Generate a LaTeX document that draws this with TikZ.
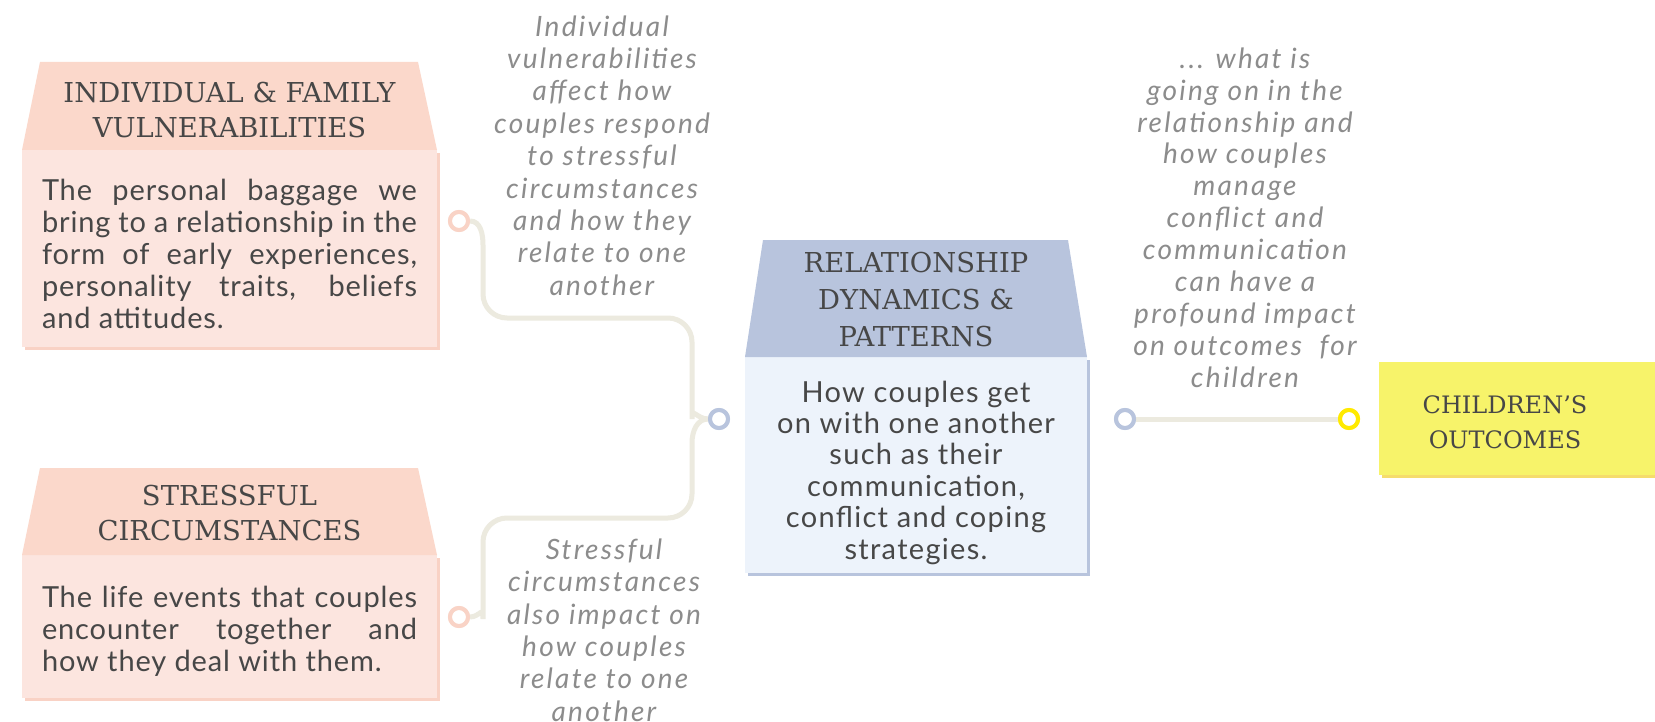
\documentclass[tikz,border=0pt]{standalone}
\usepackage{fontspec}
\newfontfamily\bodyfont[LetterSpace=3]{Lato}
\newfontfamily\midfont[LetterSpace=4.5]{Lato}
\newfontfamily\notefont[LetterSpace=8]{Lato}
\newfontfamily\headfont{DejaVu Serif}
\definecolor{txt}{HTML}{474747}
\definecolor{notec}{HTML}{8C8C8C}
\definecolor{pinkhead}{HTML}{FBD8CB}
\definecolor{pinkbody}{HTML}{FCE5DF}
\definecolor{pinkshadow}{HTML}{F9D2C5}
\definecolor{bluehead}{HTML}{B8C4DD}
\definecolor{bluebody}{HTML}{EDF3FB}
\definecolor{blueshadow}{HTML}{B8C4DD}
\definecolor{yellowbody}{HTML}{F7F36A}
\definecolor{yellowshadow}{HTML}{F5DC6C}
\definecolor{yellowring}{HTML}{FFEA00}
\definecolor{pinkring}{HTML}{F9D3C6}
\definecolor{bluering}{HTML}{B8C4DD}
\definecolor{linec}{HTML}{ECEADF}
\begin{document}
\begin{tikzpicture}[x=0.5pt,y=-0.5pt,
  hdr/.style={font=\headfont\fontsize{13.7}{17.5}\selectfont, text=txt, align=center, inner sep=0pt},
  bodytext/.style={font=\bodyfont\fontsize{14.5}{16}\selectfont, text=txt, inner sep=0pt},
  notetext/.style={font=\notefont\itshape\fontsize{14}{16.2}\selectfont, text=notec, align=center, inner sep=0pt},
  ring/.style={circle, minimum size=9pt, line width=2pt, fill=white, inner sep=0pt},
  conn/.style={draw=linec, line width=2.5pt}]
\useasboundingbox[fill=white] (0,0) rectangle (1655,722);

% Box 1
\fill[pinkshadow] (25,153) rectangle (440,350);
\fill[pinkbody] (22,150) rectangle (437,347);
\fill[pinkhead] (40,62) -- (418,62) -- (437,150) -- (22,150) -- cycle;
\node[hdr] (h1) at (229.5,110.5) {INDIVIDUAL \& FAMILY\\VULNERABILITIES};
\node[bodytext, text width=187.5pt, align=justify] (b1) at (229.5,253.5)
  {The personal baggage we\linebreak bring to a relationship in the\linebreak form of early experiences,\linebreak personality traits, beliefs\linebreak and attitudes.};

% Box 2
\fill[pinkshadow] (25,558) rectangle (440,701);
\fill[pinkbody] (22,555) rectangle (437,698);
\fill[pinkhead] (40,468) -- (418,468) -- (437,555) -- (22,555) -- cycle;
\node[hdr] (h2) at (229.5,513.5) {STRESSFUL\\CIRCUMSTANCES};
\node[bodytext, text width=187.5pt, align=justify] (b2) at (229.5,631.5)
  {The life events that couples\linebreak encounter together and\linebreak how they deal with them.};

% Middle box
\fill[blueshadow] (748,360) rectangle (1090,576);
\fill[bluebody] (745,357) rectangle (1087,573);
\fill[bluehead] (763,240) -- (1068,240) -- (1087,357) -- (745,357) -- cycle;
\node[hdr, font=\headfont\fontsize{13.7}{18.5}\selectfont] (hm) at (916,300) {RELATIONSHIP\\DYNAMICS \&\\PATTERNS};
\node[bodytext, align=center, font=\midfont\fontsize{14.5}{15.7}\selectfont] (bm) at (916,472.5)
  {How couples get\\on with one another\\such as their\\communication,\\conflict and coping\\strategies.};

% Yellow box
\fill[yellowshadow] (1382,365) rectangle (1655,478);
\fill[yellowbody] (1379,362) rectangle (1655,475);
\node[hdr, font=\headfont\fontsize{12}{17.5}\selectfont] (hy) at (1505,422.5) {CHILDREN’S\\OUTCOMES};

% Notes
\node[notetext] (n1) at (602,155.5) {Individual\\vulnerabilities\\affect how\\couples respond\\to stressful\\circumstances\\and how they\\relate to one\\another};
\node[notetext] (n2) at (604,630) {Stressful\\circumstances\\also impact on\\how couples\\relate to one\\another};
\node[notetext, font=\notefont\itshape\fontsize{14}{15.95}\selectfont] (n3) at (1245,217.5) {... what is\\going on in the\\relationship and\\how couples\\manage\\conflict and\\communication\\can have a\\profound impact\\on outcomes~ for\\children};

% Rings
\coordinate (r1pos) at (459,221);
\coordinate (r2pos) at (459,617);
\coordinate (rbpos) at (719,419);
\coordinate (rrpos) at (1125,419);
\coordinate (rypos) at (1349,419);
\node[ring, draw=pinkring] (r1) at (r1pos) {};
\node[ring, draw=pinkring] (r2) at (r2pos) {};
\node[ring, draw=bluering] (rb) at (rbpos) {};
\node[ring, draw=bluering] (rr) at (rrpos) {};
\node[ring, draw=yellowring] (ry) at (rypos) {};

% Connectors
\draw[conn] (r1.east) to[out=0,in=90] (483,245) [rounded corners=12pt] -- (483,318) -- (692,318) -- (692,395) [sharp corners] to[out=-90,in=180] (rb.west);
\draw[conn] (rb.west) to[out=180,in=90] (692,443) [rounded corners=12pt] -- (692,518) -- (483,518) -- (483,595) [sharp corners] to[out=-90,in=0] (r2.east);
\draw[conn] (rr.east) -- (ry.west);
% rings on top of the connectors
\node[ring, draw=pinkring] at (r1pos) {};
\node[ring, draw=pinkring] at (r2pos) {};
\node[ring, draw=bluering] at (rbpos) {};
\node[ring, draw=bluering] at (rrpos) {};
\node[ring, draw=yellowring] at (rypos) {};
\end{tikzpicture}
\end{document}
